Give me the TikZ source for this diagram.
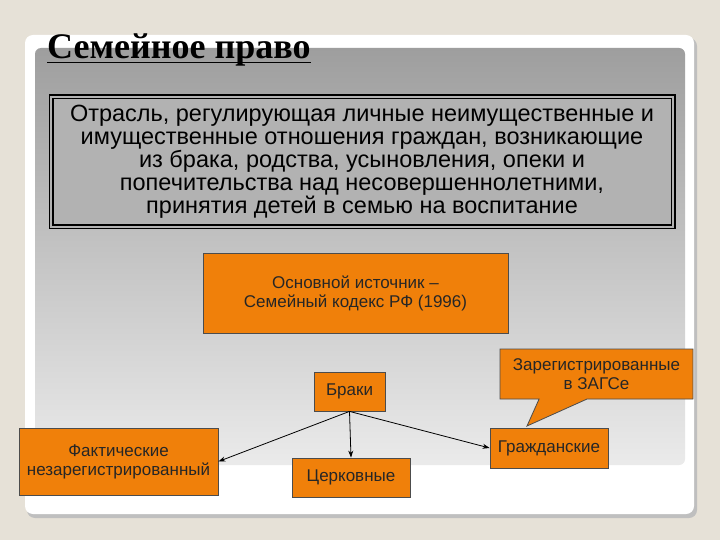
\documentclass[tikz,border=0pt]{standalone}
\usepackage{fontspec}
\setmainfont{Liberation Sans}
\newfontfamily\serifb{Liberation Serif}
\usetikzlibrary{shapes.callouts,arrows.meta}
\definecolor{bgc}{HTML}{E6E1D7}
\definecolor{orng}{HTML}{F0800A}
\tikzset{
 obox/.style={draw=black!70,fill=orng,line width=0.8pt,align=center,font=\fontsize{17}{19}\selectfont,text=black!85,inner sep=1pt},
 conn/.style={-{Stealth[length=7pt,width=5pt]},line width=0.8pt}
}
\begin{document}
\begin{tikzpicture}[x=1pt,y=-1pt]
\useasboundingbox (0,0) rectangle (720,540);
\fill[bgc] (0,0) rectangle (720,540);
\fill[black!25,rounded corners=8pt] (27,38) rectangle (697,518);
\fill[white,rounded corners=8pt] (25,35) rectangle (694,514);
\shade[top color=black!38,bottom color=black!8,rounded corners=6pt] (35,48) rectangle (685,465);
\node[anchor=west,font=\serifb\bfseries\fontsize{36}{38}\selectfont,inner sep=0pt] (title) at (47,50) {Семейное право};
\draw[line width=1.2pt] ([yshift=-4pt]title.base west) -- ([yshift=-4pt]title.base east);
\node[draw=black,line width=1.5pt,double=black!30,double distance=2pt,fill=black!30,minimum width=622pt,minimum height=130pt,align=center,font=\fontsize{23.5}{23}\selectfont,inner sep=2pt] (def) at (362,162)
 {Отрасль, регулирующая личные неимущественные и\\имущественные отношения граждан, возникающие\\из брака, родства, усыновления, опеки и\\попечительства над несовершеннолетними,\\принятия детей в семью на воспитание};
\node[obox,minimum width=305pt,minimum height=80pt] (src) at (355.5,293) {Основной источник --\\Семейный кодекс РФ (1996)};
\node[obox,minimum width=71pt,minimum height=39pt] (brak) at (349.5,391.5) {Браки};
\node[obox,minimum width=199pt,minimum height=67pt] (fakt) at (118.5,461.5) {Фактические\\незарегистрированный};
\node[obox,minimum width=118pt,minimum height=39pt] (cerk) at (351,477.5) {Церковные};
\node[obox,minimum width=118pt,minimum height=40pt] (grazh) at (549,448) {Гражданские};
\node[obox,rectangle callout,minimum width=193pt,minimum height=50pt,callout absolute pointer={(527,426)},callout pointer width=48pt] (zags) at (596.5,374) {Зарегистрированные\\в ЗАГСе};
\draw[conn] (brak.south) -- (fakt.east);
\draw[conn] (brak.south) -- (cerk.north);
\draw[conn] (brak.south) -- (grazh.west);
\end{tikzpicture}
\end{document}
